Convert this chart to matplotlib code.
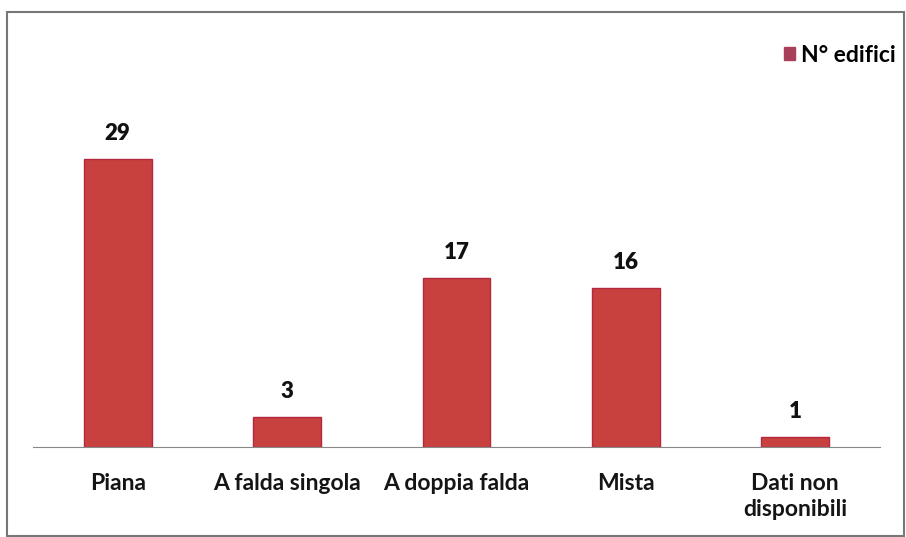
import matplotlib.pyplot as plt
from matplotlib.patches import Rectangle

# dati
categorie = ['Piana', 'A falda singola', 'A doppia falda', 'Mista', 'Dati non\ndisponibili']
n_edifici = [29, 3, 17, 16, 1]

plt.rcParams['font.family'] = ['Lato', 'DejaVu Sans']

fig = plt.figure(figsize=(9.06, 5.37), dpi=100)
ax = fig.add_axes([33 / 906, (537 - 447) / 537, (880 - 33) / 906, (447 - 30) / 537])

x = range(len(categorie))
bars = ax.bar(x, n_edifici, width=0.4, color='#C8413F', edgecolor='#B3283F',
              linewidth=1, label='N° edifici')

for b, v in zip(bars, n_edifici):
    ax.text(b.get_x() + b.get_width() / 2, v + 1.5, str(v), ha='center', va='bottom',
            fontsize=16, fontweight='heavy', color='#111111')

ax.set_xlim(-0.5, 4.5)
ax.set_ylim(0, 42)
ax.set_xticks(list(x))
ax.set_xticklabels(categorie, fontsize=16.5, fontweight='bold', color='#151515',
                   linespacing=1.3)
ax.tick_params(axis='x', length=0, pad=19)
ax.set_yticks([])
for s in ['top', 'right', 'left']:
    ax.spines[s].set_visible(False)
ax.spines['bottom'].set_color('#888888')

leg = fig.legend(loc='upper right', bbox_to_anchor=(1.012, 0.955), frameon=False,
                 prop={'size': 16.5, 'weight': 'bold'},
                 handlelength=0.45, handleheight=0.45, handletextpad=0.3)
leg.legend_handles[0].set_color('#A8405A')

# cornice esterna
fig.patches.append(Rectangle((7 / 906, 1 / 537), (904 - 7) / 906, (525 - 1) / 537,
                             transform=fig.transFigure, fill=False,
                             edgecolor='#777777', linewidth=1.5))

fig.savefig('out.png', dpi=100)
